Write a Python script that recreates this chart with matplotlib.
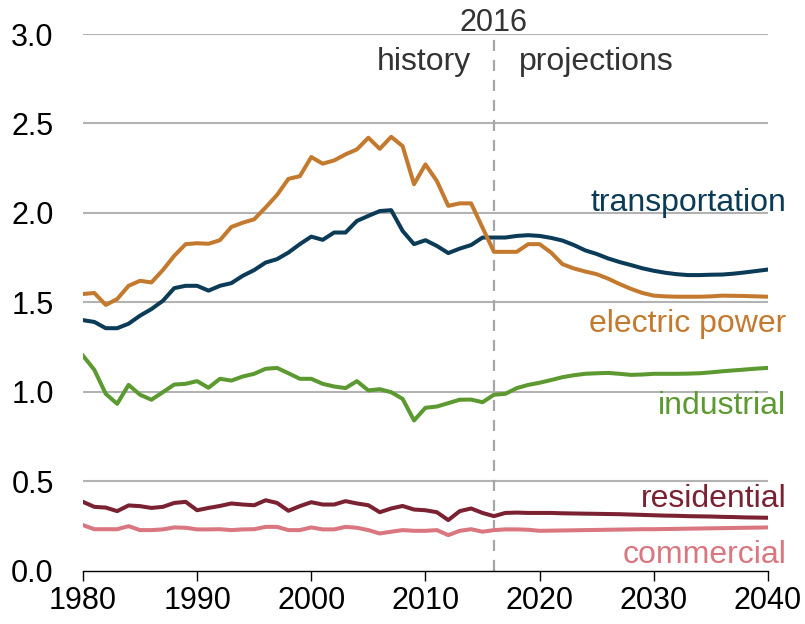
import matplotlib
matplotlib.use("Agg")
import matplotlib.pyplot as plt

plt.rcParams['font.family'] = ['Liberation Sans', 'DejaVu Sans']

years = list(range(1980, 2041))

# transportation
transportation = [
    1.40, 1.39, 1.355, 1.355, 1.38, 1.425, 1.462, 1.508, 1.579, 1.592,
    1.592, 1.565, 1.592, 1.607, 1.648, 1.68, 1.722, 1.741, 1.778, 1.825,
    1.867, 1.849, 1.89, 1.89, 1.955, 1.983, 2.01, 2.015, 1.899, 1.825,
    1.847, 1.815, 1.775, 1.80, 1.82, 1.862, 1.862, 1.862, 1.871, 1.875,
    1.871, 1.86, 1.845, 1.82, 1.79, 1.77, 1.745, 1.725, 1.708, 1.69,
    1.676, 1.665, 1.657, 1.652, 1.652, 1.654, 1.655, 1.66, 1.667, 1.675,
    1.683]

electric_power = [
    1.546, 1.552, 1.485, 1.518, 1.592, 1.62, 1.611, 1.68, 1.76, 1.825,
    1.83, 1.827, 1.847, 1.921, 1.945, 1.964, 2.03, 2.10, 2.19, 2.205,
    2.312, 2.275, 2.293, 2.327, 2.355, 2.42, 2.358, 2.425, 2.373, 2.16,
    2.271, 2.178, 2.039, 2.053, 2.053, 1.917, 1.782, 1.782, 1.782, 1.825,
    1.825, 1.778, 1.713, 1.689, 1.672, 1.657, 1.632, 1.602, 1.575, 1.552,
    1.537, 1.533, 1.531, 1.531, 1.531, 1.533, 1.537, 1.536, 1.535, 1.533,
    1.531]

industrial = [
    1.202, 1.122, 0.988, 0.932, 1.038, 0.983, 0.955, 0.997, 1.04, 1.044,
    1.059, 1.022, 1.072, 1.062, 1.085, 1.10, 1.128, 1.133, 1.103, 1.072,
    1.072, 1.044, 1.029, 1.02, 1.059, 1.007, 1.014, 0.997, 0.96, 0.839,
    0.91, 0.917, 0.936, 0.955, 0.956, 0.941, 0.983, 0.988, 1.02, 1.038,
    1.05, 1.065, 1.081, 1.092, 1.10, 1.103, 1.105, 1.10, 1.094, 1.096,
    1.10, 1.10, 1.10, 1.101, 1.103, 1.108, 1.114, 1.119, 1.124, 1.129,
    1.133]

residential = [
    0.384, 0.356, 0.352, 0.332, 0.364, 0.36, 0.35, 0.356, 0.378, 0.384,
    0.337, 0.35, 0.361, 0.375, 0.369, 0.365, 0.393, 0.378, 0.334, 0.36,
    0.382, 0.369, 0.369, 0.388, 0.375, 0.365, 0.326, 0.347, 0.361, 0.341,
    0.337, 0.326, 0.282, 0.332, 0.347, 0.322, 0.304, 0.322, 0.324, 0.322,
    0.322, 0.322, 0.32, 0.319, 0.318, 0.317, 0.316, 0.315, 0.313, 0.311,
    0.309, 0.307, 0.306, 0.304, 0.303, 0.302, 0.300, 0.299, 0.297, 0.296,
    0.295]

commercial = [
    0.254, 0.231, 0.231, 0.231, 0.248, 0.226, 0.226, 0.23, 0.241, 0.239,
    0.23, 0.23, 0.231, 0.226, 0.23, 0.231, 0.244, 0.244, 0.226, 0.226,
    0.241, 0.23, 0.23, 0.244, 0.239, 0.226, 0.207, 0.217, 0.226, 0.222,
    0.222, 0.226, 0.198, 0.222, 0.231, 0.217, 0.226, 0.23, 0.23, 0.228,
    0.222, 0.223, 0.224, 0.225, 0.226, 0.227, 0.228, 0.229, 0.230, 0.231,
    0.231, 0.232, 0.233, 0.234, 0.235, 0.236, 0.237, 0.238, 0.239, 0.240,
    0.241]

series = [
    ('transportation', transportation, '#0b3b57', 2.01),
    ('electric power', electric_power, '#c47a2e', 1.332),
    ('industrial', industrial, '#5c9a31', 0.873),
    ('residential', residential, '#7b2232', 0.356),
    ('commercial', commercial, '#d9767f', 0.044),
]

fig = plt.figure(figsize=(8.05, 6.24), dpi=100)
ax = fig.add_axes([0.103, 0.0857, 0.851, 0.8598])

for y in [0.5, 1.0, 1.5, 2.0, 2.5, 3.0]:
    ax.axhline(y, color='#b3b3b3', lw=1.5, zorder=1)

for name, vals, col, ylab in series:
    ax.plot(years, vals, color=col, lw=2.9, zorder=3, solid_joinstyle='round')
    ax.text(2041.6, ylab, name, color=col, fontsize=23, ha='right',
            va='baseline', clip_on=False)

ax.plot([2016, 2016], [0, 3.0], color='#a6a6a6', lw=1.6,
        dashes=(5, 4), zorder=2, clip_on=False)
ax.text(2016, 3.015, '2016', color='#333333', fontsize=22, ha='center',
        va='baseline', clip_on=False)
ax.text(2014.0, 2.80, 'history', color='#333333', fontsize=23, ha='right',
        va='baseline')
ax.text(2018.2, 2.80, 'projections', color='#333333', fontsize=23,
        ha='left', va='baseline')

ax.set_xlim(1980, 2040)
ax.set_ylim(0, 3.0)
ax.set_xticks([1980, 1990, 2000, 2010, 2020, 2030, 2040])
ax.set_yticks([0.0, 0.5, 1.0, 1.5, 2.0, 2.5, 3.0])
ax.set_yticklabels(['0.0', '0.5', '1.0', '1.5', '2.0', '2.5', '3.0'])

for s in ['top', 'right', 'left']:
    ax.spines[s].set_visible(False)
ax.spines['bottom'].set_color('black')
ax.spines['bottom'].set_linewidth(1.0)
ax.spines['bottom'].set_zorder(4)

ax.tick_params(axis='x', direction='out', length=7, width=1, pad=4,
               labelsize=22)
ax.tick_params(axis='y', length=0, pad=21, labelsize=22)

plt.savefig('out.png', dpi=100)
